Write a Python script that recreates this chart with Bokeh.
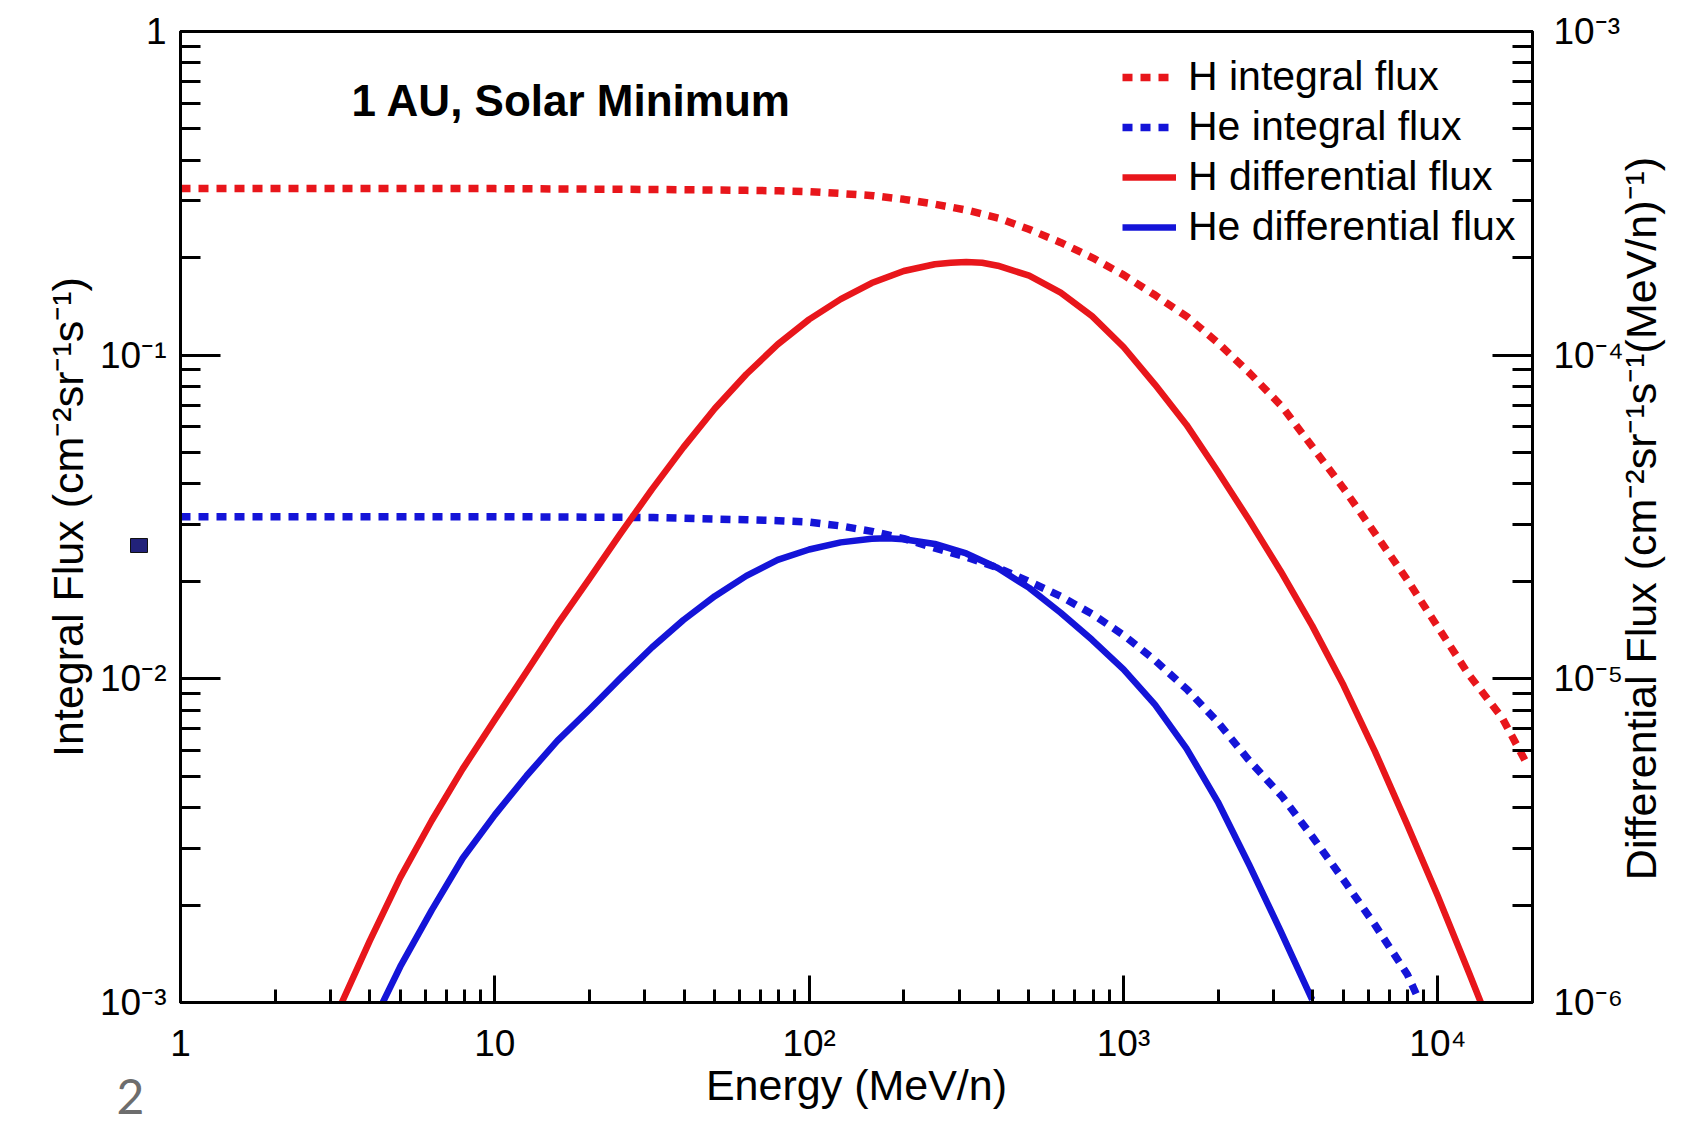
import math

from bokeh.core.properties import value
from bokeh.embed import file_html
from bokeh.models import (CustomJSTickFormatter, GridBox, Label, Legend,
                          LegendItem, LogAxis, LogScale, LogTicker, Range1d)
from bokeh.plotting import figure
from bokeh.resources import INLINE

# Kinetic energy per nucleon (MeV/n) and integral flux (cm^-2 sr^-1 s^-1)
h_int_energy = [1, 10, 32, 63, 80, 100, 125, 160, 200, 250, 320, 400, 500, 630,
                800, 1000, 1250, 1600, 2000, 2500, 3200, 4000, 5000, 6300, 8000,
                10000, 12500, 16000, 19000]
h_int_flux = [0.327, 0.327, 0.325, 0.323, 0.322, 0.320, 0.316, 0.311, 0.303,
              0.293, 0.280, 0.265, 0.245, 0.223, 0.1995, 0.177, 0.154, 0.131,
              0.109, 0.0887, 0.0692, 0.0519, 0.0389, 0.0282, 0.0202, 0.01445,
              0.01035, 0.00759, 0.00556]

he_int_energy = [1, 10, 32, 63, 80, 100, 125, 160, 200, 250, 320, 400, 500, 630,
                 800, 1000, 1250, 1600, 2000, 2500, 3200, 4000, 5000, 6300, 8000,
                 8700]
he_int_flux = [0.0317, 0.0317, 0.0315, 0.0310, 0.0308, 0.0305, 0.0297, 0.0285,
               0.0271, 0.0254, 0.0237, 0.0220, 0.0200, 0.0180, 0.0158, 0.01365,
               0.01148, 0.00923, 0.00733, 0.00562, 0.00432, 0.00324, 0.00240,
               0.00174, 0.00122, 0.00102]

# Differential flux (cm^-2 sr^-1 s^-1 (MeV/n)^-1)
h_diff_energy = [3.26, 4, 5, 6.3, 7.9, 10, 12.6, 15.8, 20, 25.1, 31.6, 39.8,
                 50.1, 63.1, 79.4, 100, 126, 158, 200, 251, 282, 316, 355, 398,
                 501, 631, 794, 1000, 1259, 1585, 1995, 2512, 3162, 3981, 5012,
                 6310, 7943, 10000, 12589, 13700]
h_diff_flux = [1.00e-6, 1.55e-6, 2.43e-6, 3.65e-6, 5.27e-6, 7.48e-6, 1.05e-5,
               1.47e-5, 2.04e-5, 2.81e-5, 3.85e-5, 5.19e-5, 6.84e-5, 8.73e-5,
               1.08e-4, 1.29e-4, 1.49e-4, 1.67e-4, 1.82e-4, 1.91e-4, 1.93e-4,
               1.94e-4, 1.93e-4, 1.89e-4, 1.76e-4, 1.56e-4, 1.32e-4, 1.06e-4,
               8.11e-5, 6.10e-5, 4.37e-5, 3.09e-5, 2.15e-5, 1.46e-5, 9.55e-6,
               5.96e-6, 3.59e-6, 2.13e-6, 1.23e-6, 1.00e-6]

he_diff_energy = [4.4, 5, 6.3, 7.9, 10, 12.6, 15.8, 20, 25.1, 31.6, 39.8, 50.1,
                  63.1, 79.4, 100, 126, 158, 178, 200, 251, 316, 398, 501, 631,
                  794, 1000, 1259, 1585, 1995, 2512, 3162, 3981]
he_diff_flux = [1.00e-6, 1.29e-6, 1.93e-6, 2.79e-6, 3.80e-6, 5.01e-6, 6.43e-6,
                8.04e-6, 1.005e-5, 1.25e-5, 1.52e-5, 1.80e-5, 2.08e-5, 2.33e-5,
                2.51e-5, 2.64e-5, 2.71e-5, 2.72e-5, 2.70e-5, 2.61e-5, 2.44e-5,
                2.20e-5, 1.91e-5, 1.60e-5, 1.32e-5, 1.07e-5, 8.32e-6, 6.10e-6,
                4.17e-6, 2.66e-6, 1.66e-6, 1.02e-6]

series_labels = ["H integral flux", "He integral flux",
                 "H differential flux", "He differential flux"]

RED = "#e8161b"
BLUE = "#1414d8"
FONT = "Liberation Sans"
W, H = 1692, 1139

p = figure(width=W, height=H,
           x_axis_type="log", y_axis_type="log",
           x_range=Range1d(1, 2e4), y_range=Range1d(1e-3, 1),
           output_backend="svg", toolbar_location=None,
           min_border_left=180, min_border_right=160,
           min_border_top=31, min_border_bottom=137)
p.frame_align = False
p.extra_y_ranges = {"diff": Range1d(1e-6, 1e-3)}
p.extra_y_scales = {"diff": LogScale()}

p.background_fill_color = "white"
p.border_fill_color = "white"
p.outline_line_color = "black"
p.outline_line_width = 3
p.grid.visible = False

# powers of ten with superscript exponents
exp_formatter_code = """
const sup = {"-": "\u207b", "0": "\u2070", "1": "\u00b9", "2": "\u00b2", "3": "\u00b3",
             "4": "\u2074", "5": "\u2075", "6": "\u2076", "7": "\u2077", "8": "\u2078", "9": "\u2079"};
const e = Math.round(Math.log10(tick));
if (e === 0) return "1";
if (e === 1) return "10";
let s = "";
for (const c of String(e)) s += sup[c];
return "10" + s;
"""

right_axis = LogAxis(y_range_name="diff")
p.add_layout(right_axis, "right")

p.xaxis.axis_label = "Energy (MeV/n)"
p.yaxis[0].axis_label = "Integral Flux (cm\u207b\u00b2sr\u207b\u00b9s\u207b\u00b9)"

for ax in [p.xaxis[0], p.yaxis[0], right_axis]:
    ax.ticker = LogTicker(num_minor_ticks=10)
    ax.formatter = CustomJSTickFormatter(code=exp_formatter_code)
    ax.axis_line_width = 3
    ax.major_tick_line_width = 3
    ax.minor_tick_line_width = 3
    ax.major_tick_out = 0
    ax.minor_tick_out = 0
    ax.major_label_text_font = FONT
    ax.major_label_text_font_size = "37px"
    ax.major_label_text_color = "black"
    ax.axis_label_text_font = FONT
    ax.axis_label_text_font_size = "43px"
    ax.axis_label_text_font_style = "normal"
    ax.axis_label_text_color = "black"

xa = p.xaxis[0]
xa.major_tick_in = 27
xa.minor_tick_in = 13
xa.major_label_standoff = 20
xa.axis_label_standoff = -6

ya = p.yaxis[0]
ya.major_tick_in = 40
ya.minor_tick_in = 20
ya.major_label_standoff = 14
ya.axis_label_standoff = 5

right_axis.major_tick_in = 40
right_axis.minor_tick_in = 20
right_axis.major_label_standoff = 21

r_h_int = p.line(h_int_energy, h_int_flux, line_color=RED, line_width=7.5,
                 line_dash="10 8")
r_he_int = p.line(he_int_energy, he_int_flux, line_color=BLUE, line_width=7.5,
                  line_dash="10 8")
r_h_diff = p.line(h_diff_energy, h_diff_flux, line_color=RED, line_width=6.5,
                  line_join="round", y_range_name="diff")
r_he_diff = p.line(he_diff_energy, he_diff_flux, line_color=BLUE, line_width=6.5,
                   line_join="round", y_range_name="diff")

legend = Legend(
    items=[LegendItem(label=lab, renderers=[r])
           for lab, r in zip(series_labels, [r_h_int, r_he_int, r_h_diff, r_he_diff])],
    location=(942, 752),
    padding=0, margin=0, spacing=3,
    glyph_width=54, glyph_height=40, label_height=40, label_standoff=12,
    label_text_font=FONT, label_text_font_size="41px", label_text_color="black",
    border_line_alpha=0, background_fill_alpha=0,
)
p.add_layout(legend)

p.add_layout(Label(x=3.50, y=0.612, text="1 AU, Solar Minimum",
                   text_font=FONT, text_font_size="44px", text_font_style="bold",
                   text_color="black", text_align="left", text_baseline="middle"))

# Transparent layer on top of the chart for the texts that sit outside its frame
# (right-hand axis title reading upwards, slide page number, small marker).
# Its frame fills the whole canvas, so its ranges are plain pixel positions.
overlay = figure(width=W, height=H, x_range=Range1d(0, W), y_range=Range1d(0, H),
                 x_axis_location=None, y_axis_location=None, title=None,
                 output_backend="svg", toolbar_location=None, min_border=0)
overlay.frame_align = False
overlay.grid.visible = False
overlay.background_fill_color = None
overlay.border_fill_color = None
overlay.outline_line_color = None

overlay.text(x=[1640], y=[H - 518],
             text=["Differential Flux (cm\u207b\u00b2sr\u207b\u00b9s\u207b\u00b9(MeV/n)\u207b\u00b9)"],
             angle=math.pi / 2, text_align="center", text_baseline="middle",
             text_font=value(FONT), text_font_size="43px", text_color="black")
overlay.text(x=[116], y=[H - 1096], text=["2"], text_align="left",
             text_baseline="middle", text_font=value("Lato"),
             text_font_size="48px", text_color="#6d6d6d")
overlay.quad(left=[130], right=[147], bottom=[H - 552], top=[H - 538],
             fill_color="#22227a", line_color="#111111", line_width=1)

page = GridBox(children=[(p, 0, 0), (overlay, 0, 0)])

open("out.html", "w").write(file_html(page, INLINE))
